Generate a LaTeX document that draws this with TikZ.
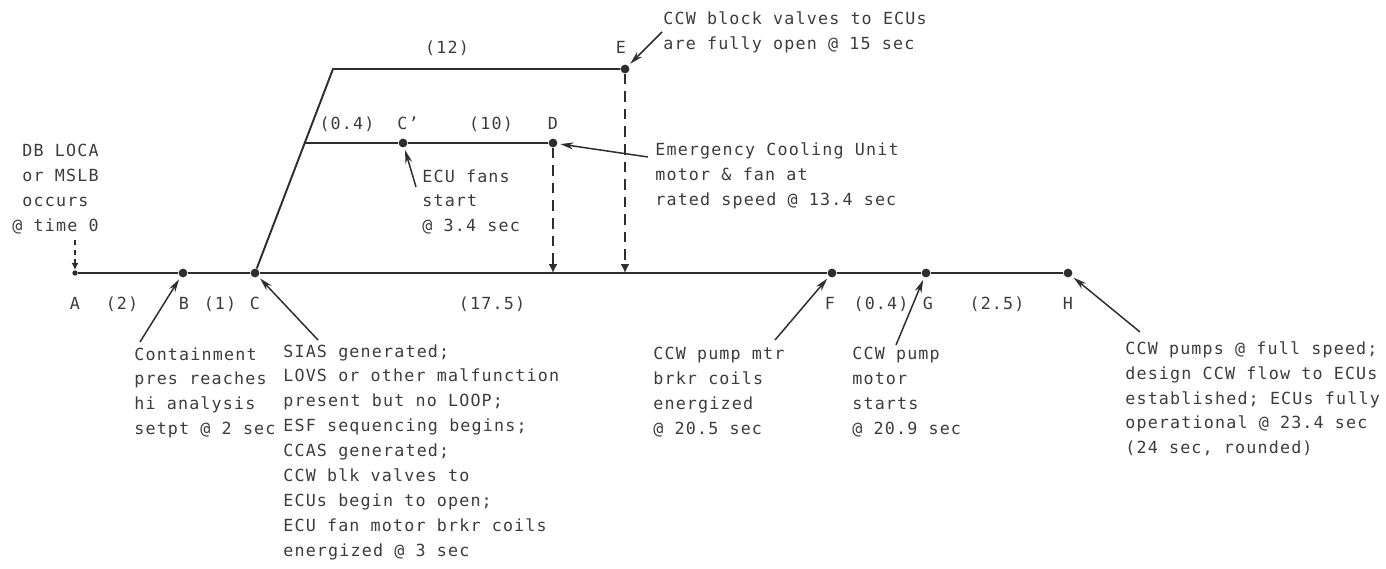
\documentclass[tikz,border=0pt]{standalone}
\usepackage{fontspec}
\setmainfont{DejaVu Sans Mono}[LetterSpace=7]
\usepackage{tikz}
\usetikzlibrary{arrows.meta,positioning,calc}
\definecolor{inkgray}{HTML}{2E2E2E}
\definecolor{textgray}{HTML}{3C3C3C}

\begin{document}
\begin{tikzpicture}[
  x=0.02cm,y=-0.02cm,
  dot/.style={circle,fill=inkgray,inner sep=0pt,minimum size=5pt},
  line/.style={draw=inkgray,line width=1.1pt},
  drop/.style={draw=inkgray,line width=1.1pt,dash pattern=on 6pt off 4pt,-{Latex[length=5pt,width=5pt]}},
  pointer/.style={draw=inkgray,line width=0.85pt,-{Stealth[length=7.5pt,width=4pt]},shorten >=1.5pt},
  lbl/.style={anchor=base,inner sep=0pt,text=textgray,font=\fontsize{9.5}{14.2}\selectfont},
  note/.style={anchor=north west,inner sep=0pt,align=left,text=textgray,font=\fontsize{9.5}{14.2}\selectfont}
]
\useasboundingbox (0,0) rectangle (1386,568);

% time points
\node[dot,minimum size=3pt] (A) at (75,273) {};
\node[dot] (B) at (183,273) {};
\node[dot] (C) at (255,273) {};
\node[dot] (F) at (832,273) {};
\node[dot] (G) at (926,273) {};
\node[dot] (H) at (1068,273) {};
\node[dot] (Cp) at (403,143) {};
\node[dot] (D) at (553,143) {};
\node[dot] (E) at (625,69) {};
\coordinate (T) at (333,69);
\coordinate (M) at (305,143);
\coordinate (Dbot) at (553,273);
\coordinate (Ebot) at (625,273);
\coordinate (Atop) at (75,240);

% main lines
\draw[line] (A) -- (B) -- (C) -- (F) -- (G) -- (H);
\draw[line] (C) -- (T) -- (E);
\draw[line] (M) -- (Cp) -- (D);
\draw[drop] (D) -- (Dbot);
\draw[drop] (E) -- (Ebot);
\draw[draw=inkgray,line width=1.1pt,dash pattern=on 3pt off 2.5pt,-{Latex[length=4pt,width=4pt]}] (Atop) -- (A);

% interval labels
\node[lbl] (lA) at (75,309) {A};
\node[lbl] (l2) at (122,309) {(2)};
\node[lbl] (lB) at (184,309) {B};
\node[lbl] (l1) at (220,309) {(1)};
\node[lbl] (lC) at (255,309) {C};
\node[lbl] (l175) at (492,309) {(17.5)};
\node[lbl] (lF) at (830,309) {F};
\node[lbl] (l04b) at (881,309) {(0.4)};
\node[lbl] (lG) at (928,309) {G};
\node[lbl] (l25) at (997,309) {(2.5)};
\node[lbl] (lH) at (1068,309) {H};
\node[lbl] (l12) at (447,53) {(12)};
\node[lbl] (lE) at (621,53) {E};
\node[lbl] (l04a) at (347,129) {(0.4)};
\node[lbl] (lCp) at (408,129) {C'};
\node[lbl] (l10) at (491,129) {(10)};
\node[lbl] (lD) at (553,129) {D};

% notes
\node[note] (nStart) at (12,144) {\phantom{@}DB LOCA\\\phantom{@}or MSLB\\\phantom{@}occurs\\@ time 0};
\node[note] (nB) at (134,347) {Containment\\pres reaches\\hi analysis\\setpt @ 2 sec};
\node[note] (nC) at (283,344) {SIAS generated;\\LOVS or other malfunction\\present but no LOOP;\\ESF sequencing begins;\\CCAS generated;\\CCW blk valves to\\ECUs begin to open;\\ECU fan motor brkr coils\\energized @ 3 sec};
\node[note] (nCp) at (422,169) {ECU fans\\start\\@ 3.4 sec};
\node[note] (nD) at (655,142) {Emergency Cooling Unit\\motor \& fan at\\rated speed @ 13.4 sec};
\node[note] (nE) at (663,11) {CCW block valves to ECUs\\are fully open @ 15 sec};
\node[note] (nF) at (653,347) {CCW pump mtr\\brkr coils\\energized\\@ 20.5 sec};
\node[note] (nG) at (852,347) {CCW pump\\motor\\starts\\@ 20.9 sec};
\node[note] (nH) at (1125,341) {CCW pumps @ full speed;\\design CCW flow to ECUs\\established; ECUs fully\\operational @ 23.4 sec\\(24 sec, rounded)};

% pointers
\coordinate (pB) at (140,342);
\coordinate (pC) at (318,340);
\coordinate (pCp) at (416,187);
\coordinate (pD) at (648,157);
\coordinate (pE) at (662,32);
\coordinate (pF) at (775,340);
\coordinate (pG) at (896,345);
\coordinate (pH) at (1140,332);
\draw[pointer] (pB) -- (B);
\draw[pointer] (pC) -- (C);
\draw[pointer] (pCp) -- (Cp);
\draw[pointer] (pD) -- (D);
\draw[pointer] (pE) -- (E);
\draw[pointer] (pF) -- (F);
\draw[pointer] (pG) -- (G);
\draw[pointer] (pH) -- (H);
\end{tikzpicture}
\end{document}
